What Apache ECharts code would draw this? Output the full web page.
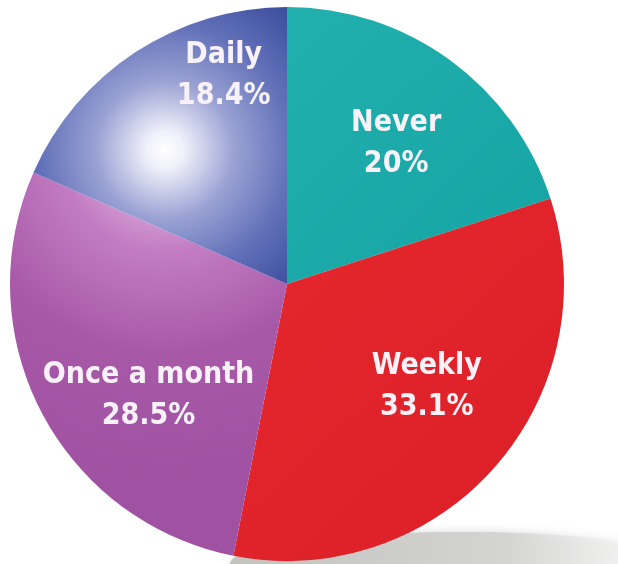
<!DOCTYPE html>
<html>
<head>
<meta charset="utf-8">
<style>
  html, body { margin: 0; padding: 0; background: #ffffff; }
  #chart { width: 618px; height: 564px; }
</style>
<script src="https://cdn.jsdelivr.net/npm/echarts@6/dist/echarts.min.js"></script>
</head>
<body>
<div id="chart"></div>
<script>
// 数据
const categories = ['Never', 'Weekly', 'Once a month', 'Daily'];
const shares = [20, 33.1, 28.5, 18.4];

// 标签微调（相对默认 inside 位置）
const labelNudges = [[26, -26], [34, 9], [-13, 46], [14, -90]];

const G = echarts.graphic;

// 每块扇区的颜色（带光照）
const sliceColors = [
  new G.LinearGradient(0, 0, 1, 1, [
    { offset: 0, color: '#22b0ae' },
    { offset: 1, color: '#14a4a3' }
  ]),
  new G.LinearGradient(0, 0, 1, 1, [
    { offset: 0, color: '#e5262d' },
    { offset: 1, color: '#dc2028' }
  ]),
  new G.RadialGradient(165, 150, 340, [
    { offset: 0, color: '#eed2ee' },
    { offset: 0.3, color: '#c37cc3' },
    { offset: 0.6, color: '#a759a8' },
    { offset: 1, color: '#a052a2' }
  ], true),
  new G.RadialGradient(165, 150, 230, [
    { offset: 0, color: '#ffffff' },
    { offset: 0.08, color: '#f0f1fa' },
    { offset: 0.3, color: '#9aa2d4' },
    { offset: 0.55, color: '#6170b8' },
    { offset: 0.8, color: '#3f4e9e' },
    { offset: 1, color: '#2b3b8d' }
  ], true)
];

const chart = echarts.init(document.getElementById('chart'));

const option = {
  backgroundColor: '#ffffff',
  animation: false,
  graphic: [
    {
      // 右下角的投影
      type: 'ellipse',
      z: 0,
      silent: true,
      shape: { cx: 460, cy: 564, rx: 230, ry: 32 },
      style: {
        fill: new G.LinearGradient(0, 0, 1, 0, [
          { offset: 0, color: '#c2c3bf' },
          { offset: 0.6, color: '#d4d4d2' },
          { offset: 1, color: 'rgba(255,255,255,0)' }
        ]),
        shadowBlur: 10,
        shadowColor: 'rgba(190,190,190,0.6)'
      }
    }
  ],
  series: [
    {
      type: 'pie',
      z: 2,
      center: [287, 284],
      radius: 277,
      startAngle: 90,
      clockwise: true,
      silent: true,
      itemStyle: { borderWidth: 0 },
      label: {
        show: true,
        position: 'inside',
        formatter: '{b}\n{c}%',
        color: '#f8f2f8',
        fontFamily: '"Liberation Sans Narrow", "DejaVu Sans Condensed", "Arial Narrow", sans-serif',
        fontWeight: 'bold',
        fontSize: 30,
        lineHeight: 41,
        align: 'center'
      },
      labelLine: { show: false },
      labelLayout: function (params) {
        const n = labelNudges[params.dataIndex];
        return { dx: n[0], dy: n[1] };
      },
      data: categories.map((name, i) => ({
        name: name,
        value: shares[i],
        itemStyle: { color: sliceColors[i] }
      }))
    }
  ]
};

chart.setOption(option);

window.addEventListener('resize', function () {
  chart.resize();
});
</script>
</body>
</html>
